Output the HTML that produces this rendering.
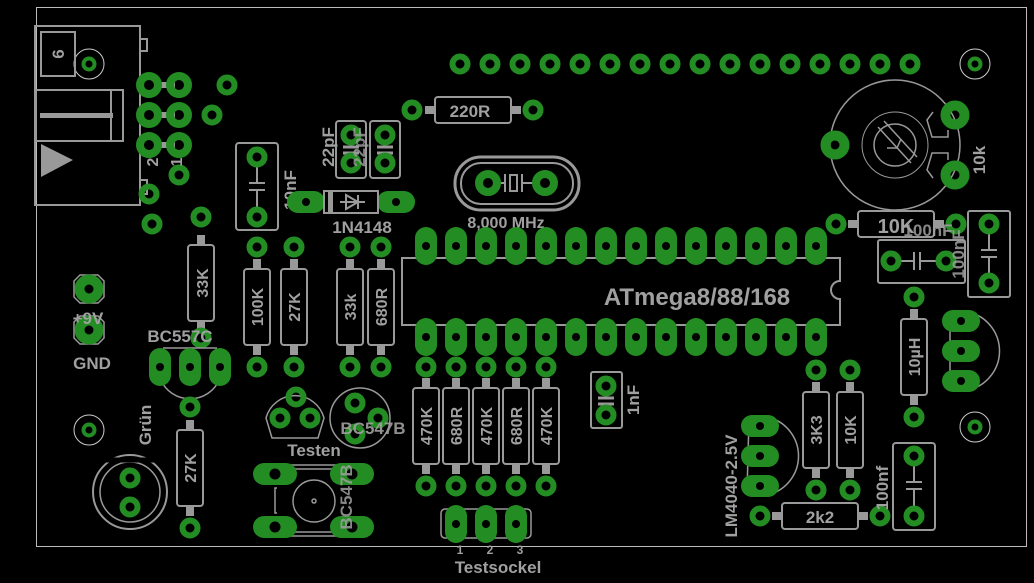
<!DOCTYPE html>
<html><head><meta charset="utf-8"><style>
html,body{margin:0;padding:0;background:#000;}
svg{display:block;}
text{font-family:"Liberation Sans",sans-serif;font-weight:bold;fill:#a0a0a0;}
</style></head><body>
<svg width="1034" height="583" viewBox="0 0 1034 583" xmlns="http://www.w3.org/2000/svg">
<defs>
<g id="p"><circle r="7.5" fill="none" stroke="#238c23" stroke-width="6"/></g>
<g id="P"><circle r="9.5" fill="none" stroke="#238c23" stroke-width="10"/></g>
<g id="b"><circle r="9" fill="none" stroke="#238c23" stroke-width="8"/></g>
<g id="v"><rect x="-11" y="-19" width="22" height="38" rx="11" fill="#238c23"/><circle r="4" fill="#000"/></g>
<g id="h"><rect x="-19" y="-11" width="38" height="22" rx="11" fill="#238c23"/><circle r="4" fill="#000"/></g>
<g id="H"><rect x="-22" y="-11" width="44" height="22" rx="11" fill="#238c23"/><circle r="5.5" fill="#000"/></g>
<g id="rv" fill="none" stroke="#999" stroke-width="2"><rect x="-13" y="-38" width="26" height="76" rx="3"/><rect x="-4" y="-48" width="8" height="10" fill="#999" stroke="none"/><rect x="-4" y="38" width="8" height="10" fill="#999" stroke="none"/></g>
<g id="rh" fill="none" stroke="#999" stroke-width="2"><rect x="-38" y="-13" width="76" height="26" rx="3"/><rect x="-48" y="-4" width="10" height="8" fill="#999" stroke="none"/><rect x="38" y="-4" width="10" height="8" fill="#999" stroke="none"/></g>
<g id="mh"><circle r="15" fill="none" stroke="#ccc" stroke-width="1"/><circle r="5.5" fill="none" stroke="#238c23" stroke-width="4"/></g>
</defs>
<rect x="36.5" y="7.5" width="990" height="539" fill="none" stroke="#bbb" stroke-width="1"/>
<use href="#mh" x="89" y="64"/><use href="#mh" x="975" y="64"/><use href="#mh" x="89" y="430"/><use href="#mh" x="975" y="427"/>

<g fill="none" stroke="#999" stroke-width="2">
<rect x="35" y="26" width="105" height="179"/>
<rect x="41" y="32" width="34" height="44"/>
<rect x="140" y="39" width="7" height="12"/>
<rect x="36" y="90" width="87" height="51"/>
<line x1="111" y1="90" x2="111" y2="141"/>
<rect x="140" y="180" width="7" height="14"/>
</g>
<rect x="40" y="113" width="73" height="5" fill="#999"/>
<polygon points="41,144 73,160 41,177" fill="#999"/>
<text x="0" y="0" font-size="17" font-weight="normal" transform="translate(64,54) rotate(-90)" text-anchor="middle">6</text>
<g fill="#999"><rect x="155" y="82" width="20" height="6"/><rect x="155" y="112" width="20" height="6"/><rect x="155" y="142" width="20" height="6"/></g>
<use href="#b" x="149" y="85"/><use href="#b" x="179" y="85"/><use href="#b" x="149" y="115"/><use href="#b" x="179" y="115"/><use href="#b" x="149" y="145"/><use href="#b" x="179" y="145"/>
<use href="#p" x="227" y="85"/><use href="#p" x="212" y="115"/><use href="#p" x="179" y="175"/><use href="#p" x="149" y="194"/><use href="#p" x="152" y="224"/>
<text font-size="16" font-weight="normal" transform="translate(158,162) rotate(-90)" text-anchor="middle">2</text>
<text font-size="16" font-weight="normal" transform="translate(182,162) rotate(-90)" text-anchor="middle">1</text>

<g>
<use href="#p" x="460" y="64"/><use href="#p" x="490" y="64"/><use href="#p" x="520" y="64"/><use href="#p" x="550" y="64"/><use href="#p" x="580" y="64"/><use href="#p" x="610" y="64"/><use href="#p" x="640" y="64"/><use href="#p" x="670" y="64"/><use href="#p" x="700" y="64"/><use href="#p" x="730" y="64"/><use href="#p" x="760" y="64"/><use href="#p" x="790" y="64"/><use href="#p" x="820" y="64"/><use href="#p" x="850" y="64"/><use href="#p" x="880" y="64"/><use href="#p" x="910" y="64"/>
</g>

<use href="#rh" x="473" y="110"/><use href="#p" x="412" y="110"/><use href="#p" x="533" y="110"/>
<text x="470" y="117" font-size="17" text-anchor="middle">220R</text>

<rect x="455" y="157" width="124" height="53" rx="26" fill="none" stroke="#999" stroke-width="3"/>
<rect x="461" y="163" width="112" height="41" rx="20" fill="none" stroke="#999" stroke-width="2"/>
<g stroke="#999" stroke-width="2" fill="none"><line x1="495" y1="183" x2="505" y2="183"/><line x1="505" y1="174" x2="505" y2="192"/><rect x="510" y="175" width="7" height="16"/><line x1="522" y1="174" x2="522" y2="192"/><line x1="522" y1="183" x2="535" y2="183"/></g>
<use href="#b" x="488" y="183"/><use href="#b" x="545" y="183"/>
<text x="506" y="228" font-size="16" font-weight="normal" text-anchor="middle">8,000 MHz</text>

<rect x="236" y="143" width="42" height="87" rx="3" fill="none" stroke="#999" stroke-width="2"/>
<g stroke="#999" stroke-width="2"><line x1="257" y1="165" x2="257" y2="182"/><line x1="249" y1="183" x2="265" y2="183"/><line x1="249" y1="190" x2="265" y2="190"/><line x1="257" y1="191" x2="257" y2="210"/></g>
<use href="#p" x="257" y="157"/><use href="#p" x="257" y="217"/>
<text font-size="17" transform="translate(296,190) rotate(-90)" text-anchor="middle">10nF</text>

<rect x="336" y="121" width="30" height="57" rx="3" fill="none" stroke="#999" stroke-width="2"/>
<rect x="370" y="121" width="30" height="57" rx="3" fill="none" stroke="#999" stroke-width="2"/>
<g stroke="#999" stroke-width="3"><line x1="343" y1="147" x2="359" y2="147"/><line x1="343" y1="153" x2="359" y2="153"/><line x1="377" y1="147" x2="393" y2="147"/><line x1="377" y1="153" x2="393" y2="153"/></g>
<use href="#p" x="351" y="135"/><use href="#p" x="351" y="163"/><use href="#p" x="385" y="135"/><use href="#p" x="385" y="163"/>
<text font-size="17" transform="translate(334,147) rotate(-90)" text-anchor="middle">22pF</text>
<text font-size="17" transform="translate(365,147) rotate(-90)" text-anchor="middle" opacity="0.8">22pF</text>

<use href="#h" x="306" y="202"/><use href="#h" x="396" y="202"/>
<rect x="324" y="191" width="54" height="22" fill="#000" stroke="#999" stroke-width="2"/>
<rect x="328" y="191" width="5" height="22" fill="#999"/>
<g stroke="#999" stroke-width="2" fill="none"><line x1="340" y1="202" x2="365" y2="202"/><polygon points="346,195 346,209 358,202"/><line x1="358" y1="195" x2="358" y2="209"/></g>
<text x="362" y="233" font-size="17" text-anchor="middle">1N4148</text>

<use href="#rv" x="201" y="283"/><use href="#p" x="201" y="217"/><use href="#p" x="201" y="338"/>
<text font-size="16" transform="translate(208,283) rotate(-90)" text-anchor="middle">33K</text>
<use href="#rv" x="257" y="307"/><use href="#p" x="257" y="247"/><use href="#p" x="257" y="367"/>
<text font-size="16" transform="translate(263,307) rotate(-90)" text-anchor="middle">100K</text>
<use href="#rv" x="294" y="307"/><use href="#p" x="294" y="247"/><use href="#p" x="294" y="367"/>
<text font-size="16" transform="translate(300,307) rotate(-90)" text-anchor="middle">27K</text>
<use href="#rv" x="350" y="307"/><use href="#p" x="350" y="247"/><use href="#p" x="350" y="367"/>
<text font-size="16" transform="translate(356,307) rotate(-90)" text-anchor="middle">33k</text>
<use href="#rv" x="381" y="307"/><use href="#p" x="381" y="247"/><use href="#p" x="381" y="367"/>
<text font-size="16" transform="translate(387,307) rotate(-90)" text-anchor="middle">680R</text>

<polygon points="80,275 98,275 104,281 104,297 98,303 80,303 74,297 74,281" fill="none" stroke="#999" stroke-width="1.5"/>
<polygon points="80,316 98,316 104,322 104,338 98,344 80,344 74,338 74,322" fill="none" stroke="#999" stroke-width="1.5"/>
<use href="#P" x="89" y="289"/><use href="#P" x="89" y="330"/>
<text x="88" y="324" font-size="17" text-anchor="middle">+9V</text>
<text x="92" y="369" font-size="17" text-anchor="middle">GND</text>

<path d="M163,348 L217,348 M160,378 A32,32 0 0 0 220,378" fill="none" stroke="#999" stroke-width="1.5"/>
<text x="180" y="342" font-size="17" text-anchor="middle">BC557C</text>
<use href="#v" x="160" y="367"/><use href="#v" x="190" y="367"/><use href="#v" x="220" y="367"/>
<use href="#p" x="190" y="407"/>
<use href="#rv" x="190" y="468"/><use href="#p" x="190" y="528"/>
<text font-size="16" transform="translate(196,468) rotate(-90)" text-anchor="middle">27K</text>

<circle cx="130" cy="492" r="37" fill="none" stroke="#999" stroke-width="2"/>
<circle cx="130" cy="492" r="30" fill="none" stroke="#999" stroke-width="1.5"/>
<line x1="106" y1="460" x2="154" y2="460" stroke="#000" stroke-width="5"/>
<use href="#p" x="130" y="478"/><use href="#p" x="130" y="507"/>
<text font-size="17" transform="translate(151,425) rotate(-90)" text-anchor="middle">Grün</text>

<path d="M266,418 A30,30 0 0 1 324,418 L318,438 L272,438 Z" fill="none" stroke="#999" stroke-width="1.5"/>
<use href="#p" x="296" y="397"/><use href="#p" x="280" y="418"/><use href="#p" x="310" y="418"/>
<text x="314" y="456" font-size="17" text-anchor="middle">Testen</text>
<circle cx="360" cy="418" r="30" fill="none" stroke="#999" stroke-width="1.5"/>
<use href="#p" x="355" y="403"/><use href="#p" x="378" y="418"/><use href="#p" x="355" y="434"/>
<text x="373" y="434" font-size="17" text-anchor="middle" opacity="0.9">BC547B</text>

<g fill="none" stroke="#999" stroke-width="1.5"><rect x="290" y="465" width="48" height="4"/><rect x="290" y="532" width="48" height="4"/><circle cx="314" cy="501" r="21"/><circle cx="314" cy="501" r="2"/><path d="M277,488 L275,488 L275,513 L277,513"/></g>
<use href="#H" x="275" y="474"/><use href="#H" x="352" y="474"/><use href="#H" x="275" y="527"/><use href="#H" x="352" y="527"/>
<text font-size="17" transform="translate(352,497) rotate(-90)" text-anchor="middle" opacity="0.85">BC547B</text>

<path d="M402,258 L840,258 L840,281 A9,9 0 0 0 840,299 L840,325 L402,325 Z" fill="none" stroke="#999" stroke-width="2"/>
<g>
<use href="#v" x="426" y="246"/><use href="#v" x="456" y="246"/><use href="#v" x="486" y="246"/><use href="#v" x="516" y="246"/><use href="#v" x="546" y="246"/><use href="#v" x="576" y="246"/><use href="#v" x="606" y="246"/><use href="#v" x="636" y="246"/><use href="#v" x="666" y="246"/><use href="#v" x="696" y="246"/><use href="#v" x="726" y="246"/><use href="#v" x="756" y="246"/><use href="#v" x="786" y="246"/><use href="#v" x="816" y="246"/>
<use href="#v" x="426" y="337"/><use href="#v" x="456" y="337"/><use href="#v" x="486" y="337"/><use href="#v" x="516" y="337"/><use href="#v" x="546" y="337"/><use href="#v" x="576" y="337"/><use href="#v" x="606" y="337"/><use href="#v" x="636" y="337"/><use href="#v" x="666" y="337"/><use href="#v" x="696" y="337"/><use href="#v" x="726" y="337"/><use href="#v" x="756" y="337"/><use href="#v" x="786" y="337"/><use href="#v" x="816" y="337"/>
</g>
<text x="697" y="305" font-size="24" text-anchor="middle">ATmega8/88/168</text>

<use href="#rv" x="426" y="426"/><use href="#p" x="426" y="367"/><use href="#p" x="426" y="486"/>
<use href="#rv" x="456" y="426"/><use href="#p" x="456" y="367"/><use href="#p" x="456" y="486"/>
<use href="#rv" x="486" y="426"/><use href="#p" x="486" y="367"/><use href="#p" x="486" y="486"/>
<use href="#rv" x="516" y="426"/><use href="#p" x="516" y="367"/><use href="#p" x="516" y="486"/>
<use href="#rv" x="546" y="426"/><use href="#p" x="546" y="367"/><use href="#p" x="546" y="486"/>
<text font-size="16" transform="translate(432,426) rotate(-90)" text-anchor="middle">470K</text>
<text font-size="16" transform="translate(462,426) rotate(-90)" text-anchor="middle">680R</text>
<text font-size="16" transform="translate(492,426) rotate(-90)" text-anchor="middle">470K</text>
<text font-size="16" transform="translate(522,426) rotate(-90)" text-anchor="middle">680R</text>
<text font-size="16" transform="translate(552,426) rotate(-90)" text-anchor="middle">470K</text>

<rect x="441" y="509" width="90" height="29" rx="4" fill="none" stroke="#999" stroke-width="1.5"/>
<use href="#v" x="456" y="524"/><use href="#v" x="486" y="524"/><use href="#v" x="516" y="524"/>
<text x="460" y="554" font-size="12" font-weight="normal" text-anchor="middle">1</text>
<text x="490" y="554" font-size="12" font-weight="normal" text-anchor="middle">2</text>
<text x="520" y="554" font-size="12" font-weight="normal" text-anchor="middle">3</text>
<text x="498" y="573" font-size="17" text-anchor="middle">Testsockel</text>

<rect x="591" y="372" width="31" height="56" rx="2" fill="none" stroke="#999" stroke-width="2"/>
<g stroke="#999" stroke-width="3"><line x1="598" y1="398" x2="614" y2="398"/><line x1="598" y1="404" x2="614" y2="404"/></g>
<use href="#p" x="606" y="386"/><use href="#p" x="606" y="415"/>
<text font-size="17" transform="translate(639,400) rotate(-90)" text-anchor="middle">1nF</text>

<path d="M749,418 L747,492 M771,418 A40,40 0 0 1 771,494" fill="none" stroke="#999" stroke-width="1.5"/>
<use href="#h" x="760" y="426"/><use href="#h" x="760" y="456"/><use href="#h" x="760" y="486"/>
<text font-size="17" transform="translate(737,486) rotate(-90)" text-anchor="middle">LM4040-2.5V</text>

<use href="#rv" x="816" y="430"/><use href="#p" x="816" y="370"/><use href="#p" x="816" y="490"/>
<text font-size="16" transform="translate(822,430) rotate(-90)" text-anchor="middle">3K3</text>
<use href="#rv" x="850" y="430"/><use href="#p" x="850" y="370"/><use href="#p" x="850" y="490"/>
<text font-size="16" transform="translate(856,430) rotate(-90)" text-anchor="middle">10K</text>

<use href="#rh" x="820" y="516"/><use href="#p" x="760" y="516"/><use href="#p" x="880" y="516"/>
<text x="820" y="523" font-size="17" text-anchor="middle">2k2</text>

<rect x="893" y="443" width="42" height="87" rx="3" fill="none" stroke="#999" stroke-width="2"/>
<g stroke="#999" stroke-width="2"><line x1="914" y1="464" x2="914" y2="481"/><line x1="906" y1="482" x2="922" y2="482"/><line x1="906" y1="489" x2="922" y2="489"/><line x1="914" y1="490" x2="914" y2="508"/></g>
<use href="#p" x="914" y="456"/><use href="#p" x="914" y="516"/>
<text font-size="17" transform="translate(888,488) rotate(-90)" text-anchor="middle">100nf</text>

<use href="#rv" x="914" y="357"/><use href="#p" x="914" y="297"/><use href="#p" x="914" y="417"/>
<text font-size="16" transform="translate(920,357) rotate(-90)" text-anchor="middle">10µH</text>

<path d="M950,313 L950,390 M972,313 A40,40 0 0 1 972,389" fill="none" stroke="#999" stroke-width="1.5"/>
<use href="#h" x="961" y="321"/><use href="#h" x="961" y="351"/><use href="#h" x="961" y="381"/>

<circle cx="895" cy="145" r="65" fill="none" stroke="#999" stroke-width="1.5"/>
<circle cx="895" cy="145" r="33" fill="none" stroke="#999" stroke-width="1"/>
<circle cx="895" cy="145" r="21" fill="none" stroke="#999" stroke-width="1.5"/>
<g stroke="#999" stroke-width="1.5" fill="none"><line x1="878" y1="127" x2="911" y2="163"/><line x1="884" y1="121" x2="917" y2="157"/><path d="M887,148 L897,148 L901,139"/>
<path d="M933,112 L927,120 L932,137 L948,137 L948,130"/><path d="M933,178 L927,170 L932,153 L948,153 L948,160"/></g>
<use href="#P" x="835" y="145"/><use href="#P" x="955" y="115"/><use href="#P" x="955" y="175"/>
<text font-size="17" transform="translate(985,160) rotate(-90)" text-anchor="middle">10k</text>

<use href="#rh" x="896" y="224"/><use href="#p" x="836" y="224"/><use href="#p" x="956" y="224"/>
<text x="896" y="233" font-size="20" text-anchor="middle">10K</text>
<rect x="878" y="240" width="87" height="43" rx="2" fill="none" stroke="#999" stroke-width="2"/>
<g stroke="#999" stroke-width="2"><line x1="899" y1="261" x2="913" y2="261"/><line x1="914" y1="252" x2="914" y2="270"/><line x1="920" y1="252" x2="920" y2="270"/><line x1="921" y1="261" x2="936" y2="261"/></g>
<use href="#p" x="891" y="261"/><use href="#p" x="946" y="261"/>
<text x="928" y="236" font-size="17" text-anchor="middle" opacity="0.85">100nF</text>
<rect x="968" y="211" width="42" height="86" rx="2" fill="none" stroke="#999" stroke-width="2"/>
<g stroke="#999" stroke-width="2"><line x1="989" y1="232" x2="989" y2="249"/><line x1="981" y1="250" x2="997" y2="250"/><line x1="981" y1="257" x2="997" y2="257"/><line x1="989" y1="258" x2="989" y2="276"/></g>
<use href="#p" x="989" y="224"/><use href="#p" x="989" y="283"/>
<text font-size="17" transform="translate(964,254) rotate(-90)" text-anchor="middle" opacity="0.85">100nF</text>
</svg>
</body></html>
